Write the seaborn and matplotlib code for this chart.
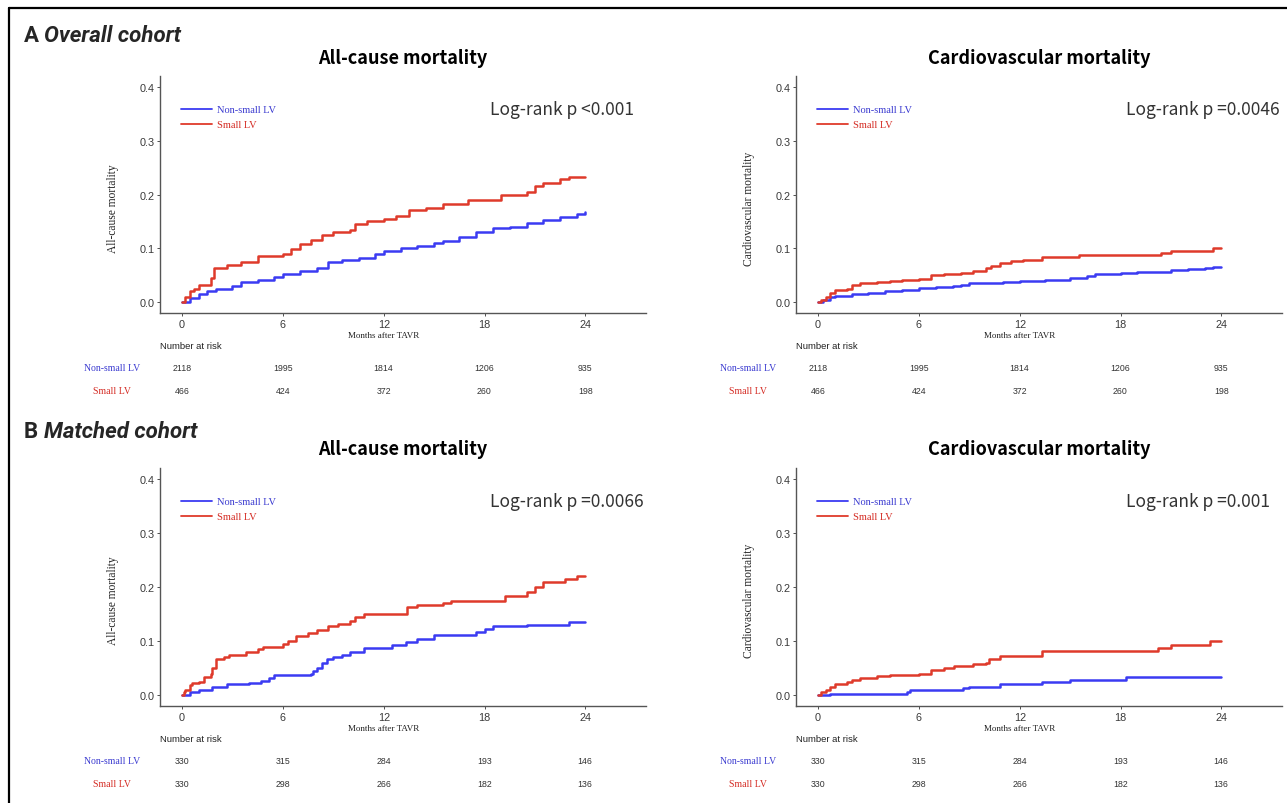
import numpy as np
import pandas as pd
import matplotlib
matplotlib.use("Agg")
import matplotlib.pyplot as plt
import seaborn as sns
from matplotlib.lines import Line2D

sns.set_theme(style="white")

# ---------------- data ----------------
groups = ["Non-small LV", "Small LV"]
risk_times = [0, 6, 12, 18, 24]

# Overall cohort, all-cause mortality (months, cumulative incidence)
oa_ns_t = [0, 0.5, 1.0, 1.5, 2.0, 3.0, 3.5, 4.5, 5.5, 6.0, 7.0, 8.0, 8.7, 9.5, 10.5, 11.5, 12.0, 13.0, 14.0,
           15.0, 15.5, 16.5, 17.5, 18.5, 19.5, 20.5, 21.5, 22.5, 23.5, 24.0]
oa_ns_y = [0, 0.008, 0.015, 0.020, 0.025, 0.030, 0.037, 0.042, 0.047, 0.053, 0.058, 0.064, 0.075, 0.078, 0.083,
           0.090, 0.095, 0.100, 0.105, 0.110, 0.113, 0.122, 0.130, 0.137, 0.140, 0.147, 0.153, 0.158, 0.164, 0.168]
oa_s_t = [0, 0.2, 0.5, 0.7, 1.0, 1.7, 1.9, 2.7, 3.5, 4.5, 6.0, 6.5, 7.0, 7.7, 8.3, 9.0, 10.0, 10.3, 11.0, 12.0,
          12.7, 13.5, 14.5, 15.5, 17.0, 19.0, 20.5, 21.0, 21.5, 22.5, 23.0, 24.0]
oa_s_y = [0, 0.010, 0.020, 0.025, 0.032, 0.045, 0.063, 0.070, 0.075, 0.085, 0.090, 0.098, 0.108, 0.115, 0.125,
          0.130, 0.135, 0.145, 0.150, 0.155, 0.160, 0.172, 0.175, 0.183, 0.190, 0.200, 0.205, 0.215, 0.222, 0.228,
          0.232, 0.232]

# Overall cohort, cardiovascular mortality
oc_ns_t = [0, 0.3, 0.7, 1.0, 2.0, 3.0, 4.0, 5.0, 6.0, 7.0, 8.0, 8.5, 9.0, 11.0, 12.0, 13.5, 15.0, 16.0, 16.5,
           18.0, 19.0, 20.0, 21.0, 22.0, 23.0, 23.5, 24.0]
oc_ns_y = [0, 0.005, 0.009, 0.012, 0.016, 0.018, 0.020, 0.022, 0.026, 0.028, 0.030, 0.032, 0.036, 0.037, 0.039,
           0.041, 0.045, 0.048, 0.052, 0.054, 0.056, 0.057, 0.059, 0.061, 0.063, 0.066, 0.066]
oc_s_t = [0, 0.2, 0.5, 0.7, 1.0, 1.7, 2.0, 2.5, 3.5, 4.3, 5.0, 6.0, 6.7, 7.5, 8.5, 9.2, 10.0, 10.3, 10.8, 11.5,
          12.2, 13.3, 15.5, 20.4, 21.0, 23.5, 24.0]
oc_s_y = [0, 0.005, 0.010, 0.018, 0.023, 0.025, 0.032, 0.035, 0.038, 0.040, 0.041, 0.043, 0.050, 0.053, 0.055,
          0.058, 0.063, 0.068, 0.073, 0.076, 0.078, 0.084, 0.088, 0.092, 0.096, 0.100, 0.100]

# Matched cohort, all-cause mortality
ma_ns_t = [0, 0.5, 1.0, 1.8, 2.7, 4.0, 4.7, 5.2, 5.5, 7.7, 7.8, 8.0, 8.3, 8.6, 9.0, 9.5, 10.0, 10.8, 12.5, 13.3,
           14.0, 15.0, 17.5, 18.0, 18.5, 20.5, 23.0, 24.0]
ma_ns_y = [0, 0.005, 0.010, 0.015, 0.020, 0.022, 0.027, 0.032, 0.038, 0.040, 0.045, 0.050, 0.060, 0.067, 0.070,
           0.075, 0.080, 0.088, 0.092, 0.098, 0.103, 0.112, 0.117, 0.122, 0.127, 0.130, 0.136, 0.136]
ma_s_t = [0, 0.1, 0.2, 0.5, 0.6, 1.0, 1.3, 1.7, 1.8, 2.0, 2.5, 2.8, 3.8, 4.5, 4.8, 6.0, 6.3, 6.8, 7.5, 8.0, 8.7,
          9.3, 10.0, 10.3, 10.8, 13.4, 14.0, 15.5, 16.0, 19.2, 20.5, 21.0, 21.5, 22.8, 23.5, 24.0]
ma_s_y = [0, 0.006, 0.010, 0.018, 0.022, 0.025, 0.033, 0.040, 0.050, 0.066, 0.070, 0.075, 0.080, 0.085, 0.090,
          0.095, 0.100, 0.110, 0.115, 0.120, 0.127, 0.132, 0.137, 0.145, 0.150, 0.163, 0.167, 0.170, 0.175, 0.183,
          0.190, 0.200, 0.210, 0.215, 0.220, 0.220]

# Matched cohort, cardiovascular mortality
mc_ns_t = [0, 0.7, 5.3, 5.5, 8.6, 9.0, 10.8, 13.3, 15.0, 18.3, 24.0]
mc_ns_y = [0, 0.003, 0.006, 0.010, 0.013, 0.016, 0.020, 0.024, 0.028, 0.033, 0.033]
mc_s_t = [0, 0.2, 0.5, 0.7, 1.0, 1.7, 2.0, 2.5, 3.5, 4.3, 6.0, 6.7, 7.5, 8.1, 9.2, 10.0, 10.2, 10.8, 13.3, 20.2,
          21.0, 23.3, 24.0]
mc_s_y = [0, 0.005, 0.010, 0.015, 0.020, 0.025, 0.028, 0.031, 0.035, 0.037, 0.040, 0.047, 0.050, 0.054, 0.057,
          0.060, 0.067, 0.073, 0.082, 0.088, 0.093, 0.100, 0.100]

overall_risk_ns = [2118, 1995, 1814, 1206, 935]
overall_risk_s = [466, 424, 372, 260, 198]
matched_risk_ns = [330, 315, 284, 193, 146]
matched_risk_s = [330, 298, 266, 182, 136]

titles = ["All-cause mortality", "Cardiovascular mortality"]
ylabels = ["All-cause mortality", "Cardiovascular mortality"]
pvals_overall = ["Log-rank p <0.001", "Log-rank p =0.0046"]
pvals_matched = ["Log-rank p =0.0066", "Log-rank p =0.001"]
yticks = [0.0, 0.1, 0.2, 0.3, 0.4]
xticks = [0, 6, 12, 18, 24]

# ---------------- style ----------------
BLUE = "#3b3bf2"
RED = "#df3a2b"
BLUE_T = "#3a3ad0"
RED_T = "#d42a22"
palette = {"Non-small LV": BLUE, "Small LV": RED}
SERIF = ["Liberation Serif", "DejaVu Serif"]
NARROW = ["Liberation Sans Narrow", "Liberation Sans", "DejaVu Sans"]
SANS = ["Liberation Sans", "DejaVu Sans"]
JP = ["Noto Sans CJK JP", "DejaVu Sans"]

W, H = 1287, 804
fig = plt.figure(figsize=(W / 100, H / 100), dpi=100)
fig.patch.set_facecolor("white")

XLIM = (-1.31, 27.6)
YLIM = (-0.02, 0.42)


def fx(px):
    return px / W


def fy(py):
    return 1 - py / H


def make_df(ns_t, ns_y, s_t, s_y):
    return pd.DataFrame({
        "time": list(ns_t) + list(s_t),
        "cuminc": list(ns_y) + list(s_y),
        "group": [groups[0]] * len(ns_t) + [groups[1]] * len(s_t),
    })


panels = [
    (make_df(oa_ns_t, oa_ns_y, oa_s_t, oa_s_y), 160, 77, 314, titles[0], ylabels[0], pvals_overall[0],
     overall_risk_ns, overall_risk_s),
    (make_df(oc_ns_t, oc_ns_y, oc_s_t, oc_s_y), 796, 77, 314, titles[1], ylabels[1], pvals_overall[1],
     overall_risk_ns, overall_risk_s),
    (make_df(ma_ns_t, ma_ns_y, ma_s_t, ma_s_y), 160, 469, 707, titles[0], ylabels[0], pvals_matched[0],
     matched_risk_ns, matched_risk_s),
    (make_df(mc_ns_t, mc_ns_y, mc_s_t, mc_s_y), 796, 469, 707, titles[1], ylabels[1], pvals_matched[1],
     matched_risk_ns, matched_risk_s),
]

AX_W = 486

for df, lpx, tpx, bpx, title, ylab, pval, rns, rs in panels:
    ax = fig.add_axes([fx(lpx), fy(bpx), AX_W / W, (bpx - tpx) / H])
    sns.lineplot(data=df, x="time", y="cuminc", hue="group", palette=palette, hue_order=groups,
                 drawstyle="steps-post", estimator=None, linewidth=1.8, ax=ax, legend=False)
    ax.set_xlim(*XLIM)
    ax.set_ylim(*YLIM)
    ax.set_xticks(xticks)
    ax.set_yticks(yticks)
    ax.set_xticklabels([str(t) for t in xticks], family=NARROW, fontsize=7.8, color="#3a3a3a")
    ax.set_yticklabels([f"{v:.1f}" for v in yticks], family=NARROW, fontsize=7.8, color="#3a3a3a")
    ax.tick_params(axis="both", which="both", length=2, width=0.6, color="#333333", pad=2,
                   left=True, bottom=True)
    for s in ["top", "right"]:
        ax.spines[s].set_visible(False)
    for s in ["left", "bottom"]:
        ax.spines[s].set_color("#555555")
        ax.spines[s].set_linewidth(1.0)
    ax.set_xlabel("")
    ax.set_ylabel("")
    ax.grid(False)
    ax.set_facecolor("white")

    # legend
    handles = [Line2D([], [], color=BLUE, lw=1.3), Line2D([], [], color=RED, lw=1.3)]
    leg = ax.legend(handles, groups, loc="upper left", bbox_to_anchor=(0.035, 0.895), frameon=False,
                    prop={"family": SERIF, "size": 7.5}, handlelength=3.0, handletextpad=0.45,
                    labelspacing=0.55, borderaxespad=0)
    for txt, c in zip(leg.get_texts(), [BLUE_T, RED_T]):
        txt.set_color(c)

    # p-value
    tick0 = lpx + 22
    fig.text(fx(lpx + 330), fy(tpx + 33), pval, family=JP, fontsize=12.5, color="#333333",
             ha="left", va="center")

    # title
    fig.text(fx(lpx + AX_W / 2), fy(tpx - 19), title, family=JP, fontsize=13, fontweight="bold",
             color="black", ha="center", va="center")

    # y label
    fig.text(fx(lpx - 47), fy((tpx + bpx) / 2 + 13), ylab, family=SERIF, fontsize=8.3,
             rotation=90, ha="center", va="center", color="#222222")

    # x label
    fig.text(fx(tick0 + 12 * 16.8), fy(bpx + 22), "Months after TAVR", family=SERIF, fontsize=6.5,
             ha="center", va="center", color="#222222")

    # risk table
    fig.text(fx(lpx), fy(bpx + 33), "Number at risk", family=SANS, fontsize=6.8,
             ha="left", va="center", color="#222222")
    y_ns = bpx + 55
    y_s = bpx + 78
    fig.text(fx(lpx - 48), fy(y_ns), groups[0], family=SERIF, fontsize=7, color=BLUE_T,
             ha="center", va="center")
    fig.text(fx(lpx - 48), fy(y_s), groups[1], family=SERIF, fontsize=7, color=RED_T,
             ha="center", va="center")
    for t, a, b in zip(risk_times, rns, rs):
        xp = tick0 + t * 16.8
        fig.text(fx(xp), fy(y_ns), str(a), family=SANS, fontsize=6.3, ha="center", va="center",
                 color="#333333")
        fig.text(fx(xp), fy(y_s), str(b), family=SANS, fontsize=6.3, ha="center", va="center",
                 color="#333333")

# panel labels
LAB = ["Roboto", "DejaVu Sans"]
fig.text(fx(24), fy(36), "A", family=LAB, fontsize=16, fontweight="bold", ha="left", va="center")
fig.text(fx(44), fy(36), "Overall cohort", family=LAB, fontsize=16, fontweight="bold",
         style="italic", ha="left", va="center")
fig.text(fx(24), fy(432), "B", family=LAB, fontsize=16, fontweight="bold", ha="left", va="center")
fig.text(fx(44), fy(432), "Matched cohort", family=LAB, fontsize=16, fontweight="bold",
         style="italic", ha="left", va="center")

# frame lines (left and top)
fig.add_artist(Line2D([fx(9), fx(9)], [fy(9), 0], color="black", lw=1.6, transform=fig.transFigure))
fig.add_artist(Line2D([fx(9), 1], [fy(9), fy(9)], color="black", lw=1.6, transform=fig.transFigure))

fig.savefig("out.png", dpi=100, facecolor="white")
